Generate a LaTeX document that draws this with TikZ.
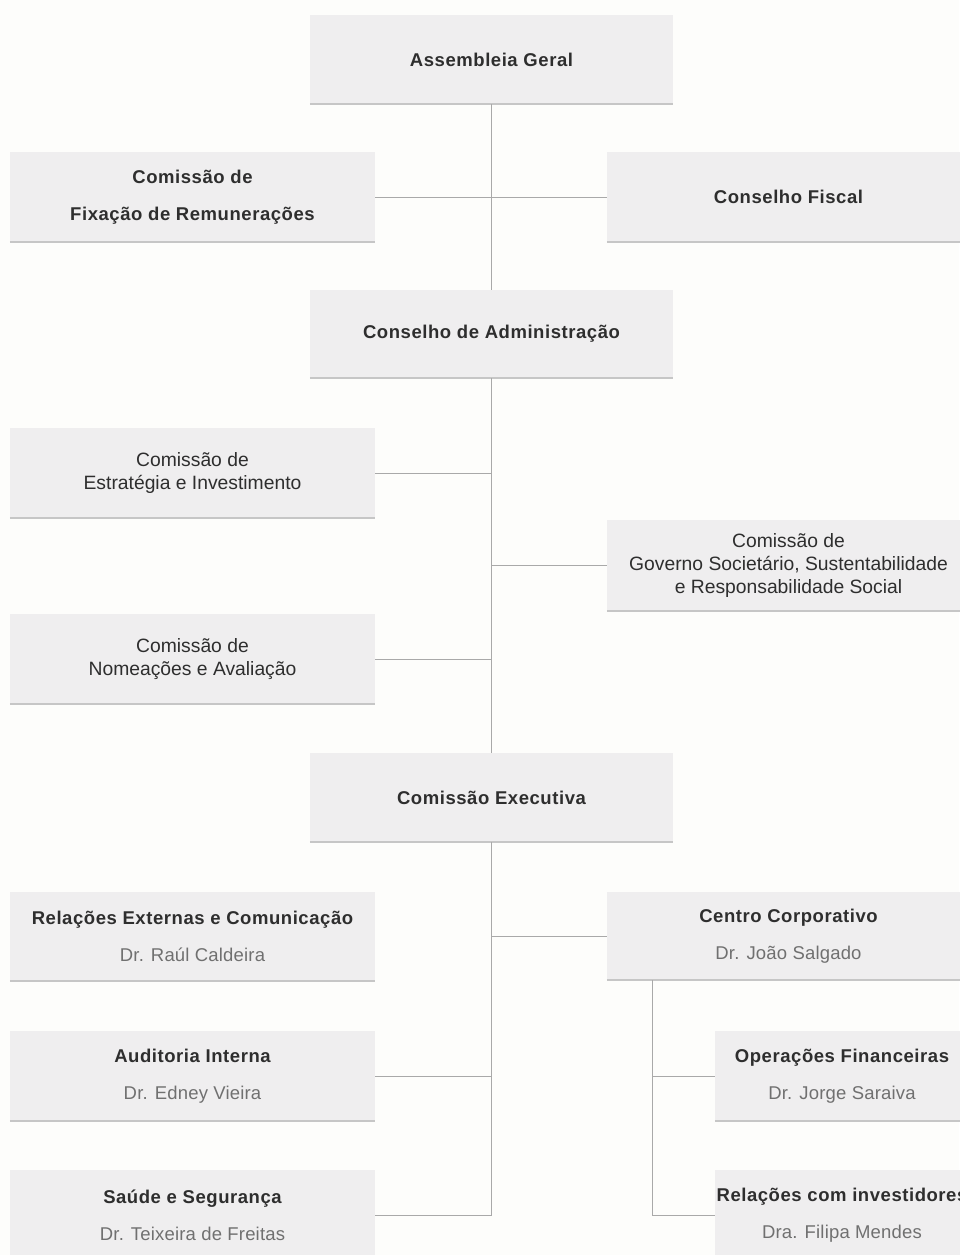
\documentclass[tikz,border=0pt]{standalone}
\usepackage{fontspec}
\setmainfont{Liberation Sans}
\newfontfamily\dinbold[LetterSpace=3]{Liberation Sans Bold}
\newfontfamily\dinreg[LetterSpace=1]{Liberation Sans}
\definecolor{bgc}{HTML}{FDFDFB}
\definecolor{boxc}{HTML}{EFEEEF}
\definecolor{edgec}{HTML}{C6C6C6}
\definecolor{linec}{HTML}{A9A9A9}
\definecolor{ttlc}{HTML}{2E2E2E}
\definecolor{namec}{HTML}{707070}
\newcommand{\ttl}[1]{{\dinbold\color{ttlc}#1}}
\newcommand{\nme}[1]{{\dinreg\color{namec}#1}}
\tikzset{
  orgbox/.style={rectangle, fill=boxc, inner sep=0pt, align=center,
    minimum width=363pt, minimum height=89pt},
  smallbox/.style={orgbox, minimum width=254pt},
  tracked/.style={font=\fontsize{18.5}{37}\selectfont},
  plain/.style={font=\fontsize{19.3}{23}\selectfont\color{ttlc}},
  conn/.style={draw=linec, line width=1pt},
  edge/.style={draw=edgec, line width=2.2pt}
}
\begin{document}
\begin{tikzpicture}[x=1pt,y=-1pt]
\useasboundingbox[fill=bgc] (0,0) rectangle (959,1255);
% boxes
\node[orgbox,tracked] (AG) at (491.5,59.5) {\ttl{Assembleia Geral}};
\node[orgbox,tracked,minimum width=365pt,minimum height=90pt] (FIX) at (192.5,197) {\ttl{Comissão de}\\\ttl{Fixação de Remunerações}};
\node[orgbox,tracked,minimum height=90pt] (CF) at (788.5,197) {\ttl{Conselho Fiscal}};
\node[orgbox,tracked,minimum height=88pt] (CA) at (491.5,334) {\ttl{Conselho de Administração}};
\node[orgbox,plain,minimum width=365pt,minimum height=90pt] (EST) at (192.5,473) {Comissão de\\Estratégia e Investimento};
\node[orgbox,plain,minimum height=91pt] (GOV) at (788.5,565.5) {Comissão de\\Governo Societário, Sustentabilidade\\e Responsabilidade Social};
\node[orgbox,plain,minimum width=365pt,minimum height=90pt] (NOM) at (192.5,659) {Comissão de\\Nomeações e Avaliação};
\node[orgbox,tracked] (CE) at (491.5,797.5) {\ttl{Comissão Executiva}};
\node[orgbox,tracked,minimum width=365pt] (RE) at (192.5,936.5) {\ttl{Relações Externas e Comunicação}\\\nme{Dr. Raúl Caldeira}};
\node[orgbox,tracked,minimum height=88pt] (CC) at (788.5,936) {\ttl{Centro Corporativo}\\\nme{Dr. João Salgado}};
\node[orgbox,tracked,minimum width=365pt,minimum height=90pt] (AI) at (192.5,1076) {\ttl{Auditoria Interna}\\\nme{Dr. Edney Vieira}};
\node[smallbox,tracked,minimum height=90pt] (OF) at (842,1076) {\ttl{Operações Financeiras}\\\nme{Dr. Jorge Saraiva}};
\node[orgbox,tracked,minimum width=365pt,minimum height=90pt] (SS) at (192.5,1215) {\ttl{Saúde e Segurança}\\\nme{Dr. Teixeira de Freitas}};
\node[smallbox,tracked,minimum height=90pt] (RI) at (842,1215) {\ttl{Relações com investidores}\\\nme{Dra. Filipa Mendes}};
% bottom edges
\foreach \b in {AG,FIX,CF,CA,EST,GOV,NOM,CE,RE,CC,AI,OF,SS,RI}
  \draw[edge] (\b.south west) -- (\b.south east);
% connectors
\draw[conn] (AG.south) -- (CA.north);
\draw[conn] (FIX.east) -- (CF.west);
\draw[conn] (CA.south) -- (CE.north);
\draw[conn] (EST.east) -- (EST.east -| CA.south);
\draw[conn] (GOV.west) -- (GOV.west -| CA.south);
\draw[conn] (NOM.east) -- (NOM.east -| CA.south);
\draw[conn] (CE.south) |- (SS.east);
\draw[conn] (CC.west) -- (CC.west -| CE.south);
\draw[conn] (AI.east) -- (AI.east -| CE.south);
\coordinate (CCT) at ([xshift=-136.5pt]CC.south);
\draw[conn] (CCT) |- (OF.west);
\draw[conn] (CCT) |- (RI.west);
\end{tikzpicture}
\end{document}
